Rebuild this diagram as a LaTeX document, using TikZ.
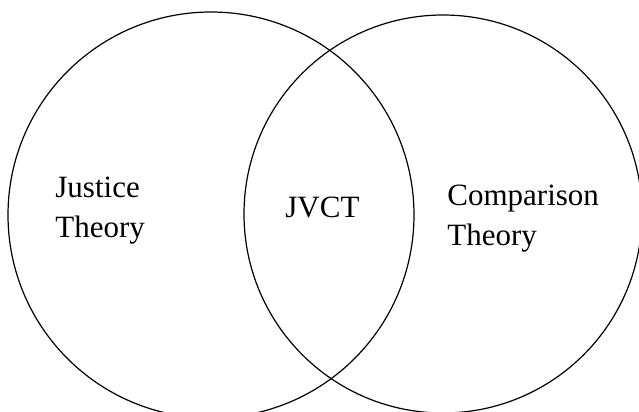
\documentclass[tikz,border=0pt]{standalone}
\usepackage{fontspec}
\setmainfont{Liberation Serif}
\begin{document}
\begin{tikzpicture}[x=0.5pt,y=-0.5pt]
    \useasboundingbox (0,0) rectangle (639,412);
    \draw [line width=0.6pt](211,215) circle(101.5pt);
    \draw [line width=0.6pt](443,214) circle(99.5pt);
   \node [anchor=base west,inner sep=0,align=left,font=\fontsize{15.5}{19.75}\selectfont] (jt) at (55,237) {Justice\\Theory};
   \node [anchor=base west,inner sep=0,font=\fontsize{15.5}{19.75}\selectfont] (jvct) at (285,218) {JVCT};
   \node [anchor=base west,inner sep=0,align=left,font=\fontsize{15.5}{19.75}\selectfont] (ct) at (447,245) {Comparison\\Theory};
\end{tikzpicture}
\end{document}
